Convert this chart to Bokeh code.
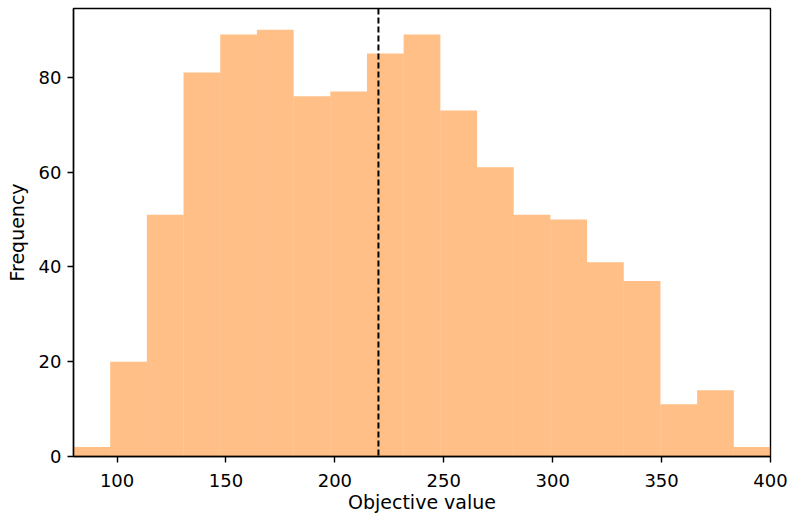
from bokeh.plotting import figure
from bokeh.models import Range1d, Span, FixedTicker
from bokeh.embed import file_html
from bokeh.resources import INLINE
import numpy as np

# Histogram data
bin_start = 80.0
bin_end = 400.0
counts = [2, 20, 51, 81, 89, 90, 76, 77, 85, 89, 73, 61, 51, 50, 41, 37, 11, 14, 2]
marker_value = 220.0
x_ticks = [100, 150, 200, 250, 300, 350, 400]
y_ticks = [0, 20, 40, 60, 80]

edges = np.linspace(bin_start, bin_end, len(counts) + 1)

FONT = "DejaVu Sans"

p = figure(width=791, height=515, output_backend="svg", toolbar_location=None,
           x_range=Range1d(bin_start, bin_end), y_range=Range1d(0, max(counts) * 1.05),
           min_border_left=73, min_border_right=21, min_border_top=8, min_border_bottom=58)

p.quad(left=edges[:-1], right=edges[1:], bottom=0, top=counts,
       fill_color="#ff7f0e", fill_alpha=0.5, line_color=None)

p.add_layout(Span(location=marker_value, dimension="height", line_color="black",
                  line_width=2, line_dash="6 3"))

p.xgrid.visible = False
p.ygrid.visible = False
p.outline_line_color = "black"
p.outline_line_width = 1.4
p.outline_line_alpha = 1.0

for ax in (p.xaxis[0], p.yaxis[0]):
    ax.axis_line_color = "black"
    ax.axis_line_width = 1.4
    ax.major_tick_line_color = "black"
    ax.major_tick_line_width = 1.4
    ax.major_tick_out = 6
    ax.major_tick_in = 0
    ax.minor_tick_line_color = None
    ax.major_label_text_font = FONT
    ax.major_label_text_font_size = "18px"
    ax.major_label_text_color = "black"
    ax.axis_label_text_font = FONT
    ax.axis_label_text_font_size = "19px"
    ax.axis_label_text_font_style = "normal"
    ax.axis_label_text_color = "black"

p.xaxis[0].ticker = FixedTicker(ticks=x_ticks)
p.yaxis[0].ticker = FixedTicker(ticks=y_ticks)
p.xaxis[0].axis_label = "Objective value"
p.yaxis[0].axis_label = "Frequency"
p.xaxis[0].major_label_standoff = 11
p.xaxis[0].axis_label_standoff = 1
p.yaxis[0].major_label_standoff = 6
p.yaxis[0].axis_label_standoff = 8

open("out.html", "w").write(file_html(p, INLINE))
